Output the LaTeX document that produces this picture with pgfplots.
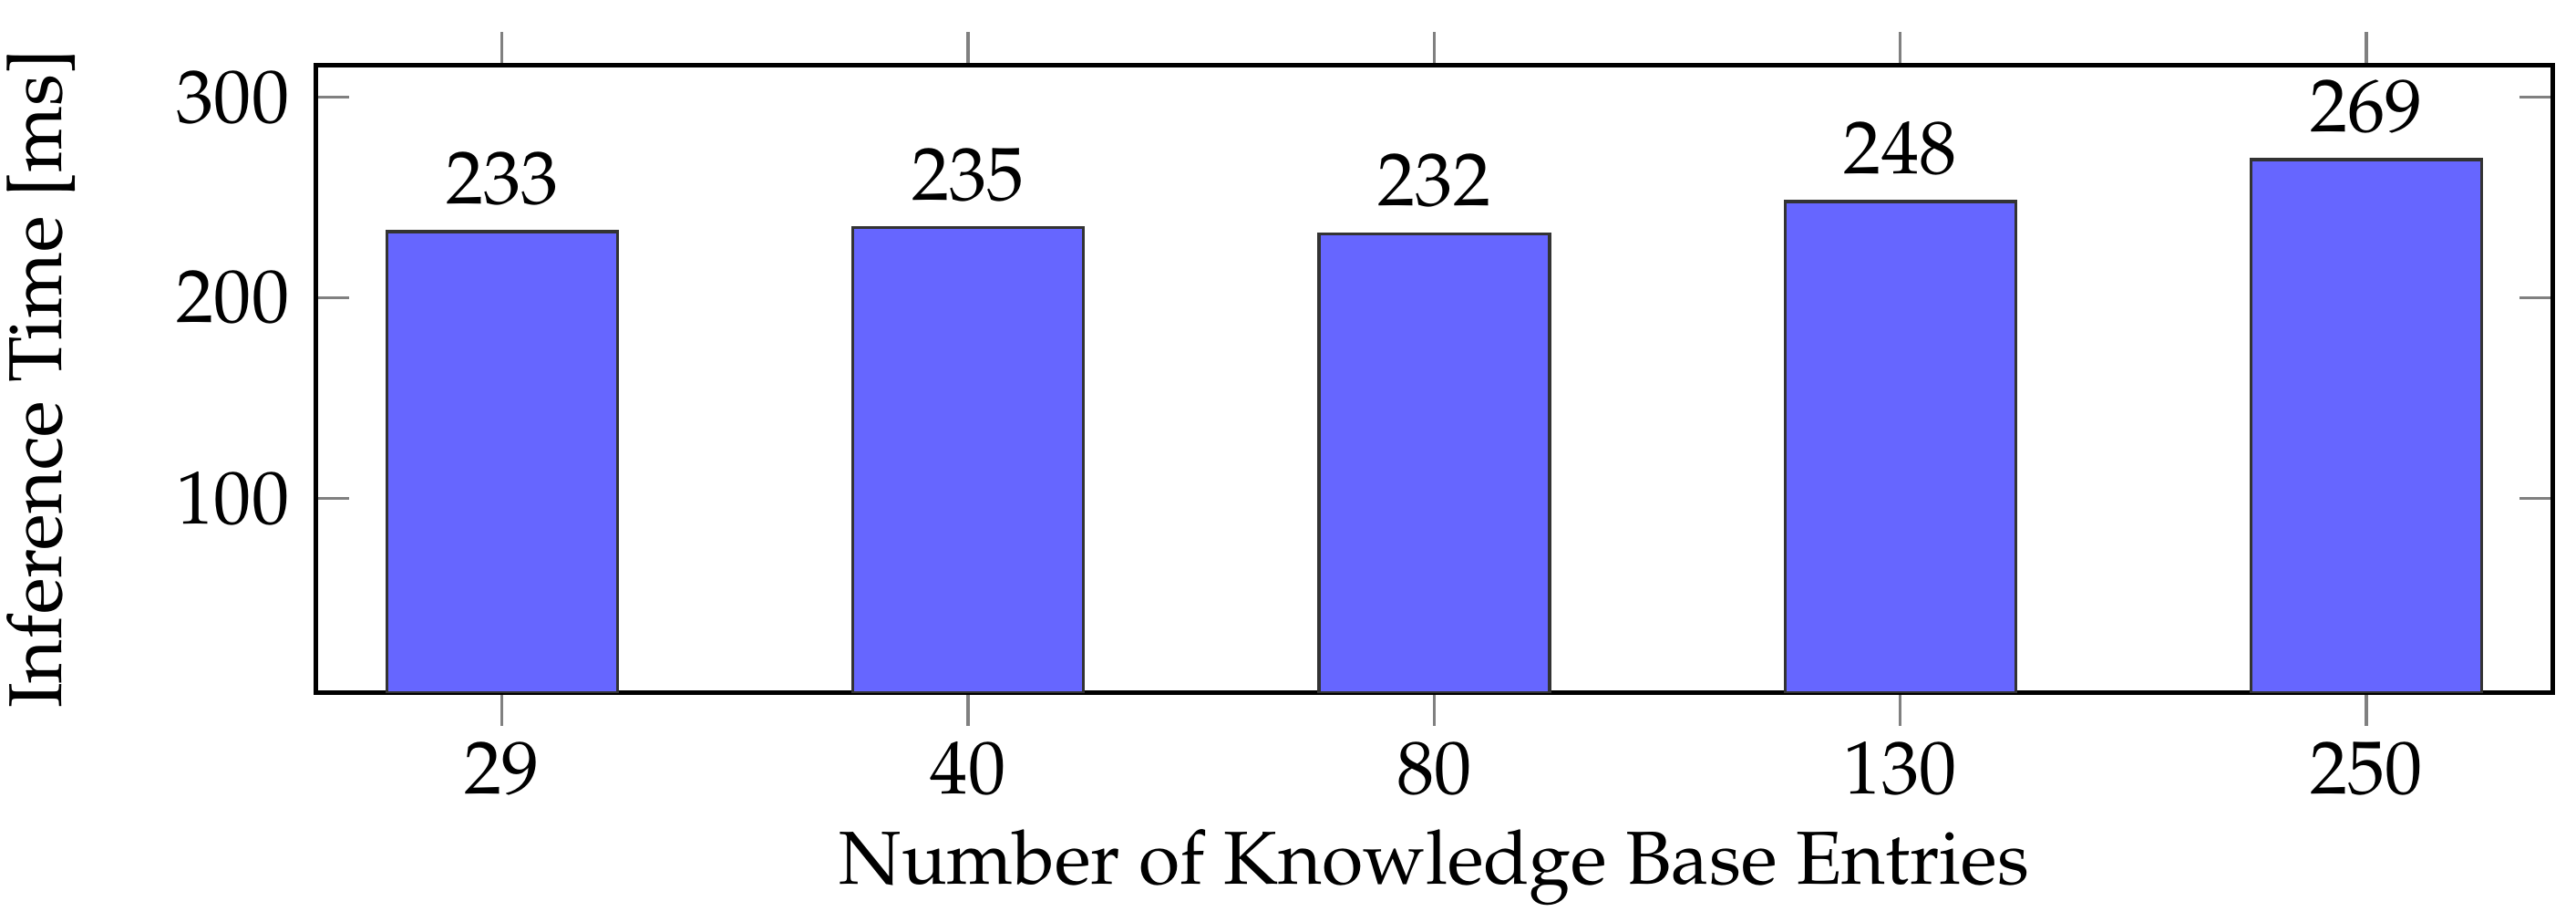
\documentclass[border=0pt]{standalone}
\usepackage[T1]{fontenc}
\usepackage{mathpazo}
\usepackage{pgfplots}
\pgfplotsset{compat=1.18}

\begin{document}
\begin{tikzpicture}
\begin{axis}[
    scale only axis,
    width=298pt, height=83.5pt,
    ybar, bar width=0.495,
    xmin=-0.4, xmax=4.4,
    ymin=3, ymax=316,
    xtick=data,
    xticklabels={29,40,80,130,250},
    ytick={100,200,300},
    xtick align=outside,
    ytick align=inside,
    major tick length=4.4pt,
    tick style={gray, thin},
    axis line style={semithick},
    xticklabel style={inner sep=2pt},
    xlabel={Number of Knowledge Base Entries},
    ylabel={Inference Time [ms]},
    xlabel style={inner sep=1.5pt, yshift=-0.9pt},
    ylabel style={inner sep=1pt, yshift=8.9pt},
    nodes near coords,
    every node near coord/.append style={black},
]
\addplot[fill=blue!60, draw=black!80] coordinates {
    (0,233) (1,235) (2,232) (3,248) (4,269)
};
\end{axis}
% blank room the reference keeps above, to the right and below
\path (current bounding box.north east) ++(2.8pt,4.1pt);
\path (current bounding box.south) ++(0,-0.6pt);
\end{tikzpicture}
\end{document}
